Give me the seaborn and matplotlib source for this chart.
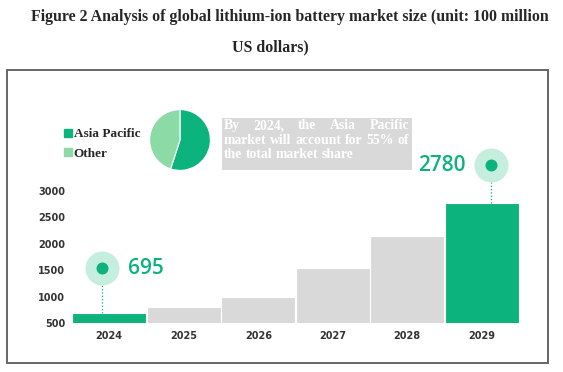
import matplotlib
matplotlib.use('Agg')
import matplotlib.pyplot as plt
import matplotlib.patches as patches
from matplotlib.lines import Line2D
import seaborn as sns
import pandas as pd

years = ['2024', '2025', '2026', '2027', '2028', '2029']
market = [695, 800, 1000, 1550, 2150, 2780]
bar_colors = ['#0db37d', '#d9d9d9', '#d9d9d9', '#d9d9d9', '#d9d9d9', '#0db37d']
yticks = [500, 1000, 1500, 2000, 2500, 3000]
share_labels = ['Asia Pacific', 'Other']
share_values = [55, 45]
share_colors = ['#0db37d', '#8cdba6']
note_lines = ['By 2024, the Asia Pacific', 'market will account for 55% of', 'the total market share']

green = '#0db37d'
light = '#c6eedf'

sns.set_style('white')
fig = plt.figure(figsize=(5.63, 3.72), dpi=100)
W, H = 563, 372

def fx(px):
    return px / W

def fy(py):
    return 1 - py / H

# outer frame
fig.patches.append(patches.Rectangle((fx(7), fy(363)), fx(548) - fx(7), fy(70) - fy(363),
                                     transform=fig.transFigure, fill=False,
                                     edgecolor='#666666', lw=1.4))

# title
fig.text(fx(290), fy(17), 'Figure 2 Analysis of global lithium-ion battery market size (unit: 100 million',
         ha='center', va='center', fontsize=11.4, fontweight='bold', family='Liberation Serif')
fig.text(fx(270), fy(47), 'US dollars)', ha='center', va='center', fontsize=11.4,
         fontweight='bold', family='Liberation Serif')

# bar chart
ymin, ymax = 500, 3600
ppu = 132 / 2500
ax = fig.add_axes([fx(72), fy(323), fx(519) - fx(72), (ymax - ymin) * ppu / H])
df = pd.DataFrame({'year': years, 'value': market})
sns.barplot(data=df, x='year', y='value', hue='year', palette=bar_colors, legend=False,
            width=0.99, edgecolor='white', linewidth=0.8, ax=ax, saturation=1)
ax.set_ylim(ymin, ymax)
ax.set_xlim(-0.5, 5.5)
ax.set_yticks(yticks)
ax.set_yticklabels([str(t) for t in yticks])
ax.set_xlabel('')
ax.set_ylabel('')
for s in ax.spines.values():
    s.set_visible(False)
ax.tick_params(axis='both', length=0, labelsize=7, labelcolor='#333333')
ax.tick_params(axis='y', pad=5)
ax.tick_params(axis='x', pad=6)
for lab in ax.get_xticklabels() + ax.get_yticklabels():
    lab.set_fontweight('bold')

# callouts
callouts = [(0, market[0], 1540, -0.1, 26, 'left'), (5, market[5], 3492, 0.12, -25, 'right')]
for i, val, cy, dx, off, ha in callouts:
    x = i + dx
    ax.plot([x, x], [val, cy], ls=':', color=green, lw=0.9, clip_on=False)
    ax.scatter([x], [cy], s=600, color=light, zorder=3, clip_on=False, linewidths=0)
    ax.scatter([x], [cy], s=75, color=green, zorder=4, clip_on=False, linewidths=0)
    ax.annotate(str(val), (x, cy), xytext=(off, 0), textcoords='offset pixels',
                ha=ha, va='center', fontsize=15, color=green, family='Open Sans',
                fontweight='semibold', annotation_clip=False)

# pie
pax = fig.add_axes([fx(149), fy(171), fx(211) - fx(149), fy(109) - fy(171)])
pax.pie(share_values, colors=share_colors, startangle=90, counterclock=False, radius=1,
        wedgeprops=dict(edgecolor='white', linewidth=0.8))
pax.set_xlim(-1.02, 1.02)
pax.set_ylim(-1.02, 1.02)
pax.set_aspect('equal')

# legend
handles = [Line2D([], [], marker='s', ls='', color=c, markersize=6) for c in share_colors]
fig.legend(handles, share_labels, loc='center left', bbox_to_anchor=(fx(52), fy(144)),
           frameon=False, handlelength=0.6, handletextpad=0.15, labelspacing=0.55,
           prop=dict(family='Liberation Serif', weight='bold', size=9.5))

# note box, justified text
bx0, bx1, by0, by1 = 222, 412, 118, 170
fig.patches.append(patches.Rectangle((fx(bx0), fy(by1)), fx(bx1) - fx(bx0), fy(by0) - fy(by1),
                                     transform=fig.transFigure, color='#d9d9d9', lw=0))
renderer = fig.canvas.get_renderer()
tx0, tx1 = bx0 + 2, bx1 - 3
for k, line in enumerate(note_lines):
    ypos = fy(126 + 14 * k)
    words = line.split()
    txts = [fig.text(0, ypos, w, ha='left', va='center', fontsize=9.9, color='white',
                     fontweight='bold', family='Liberation Serif') for w in words]
    widths = [t.get_window_extent(renderer).width for t in txts]
    if k < len(note_lines) - 1:
        gap = (tx1 - tx0 - sum(widths)) / (len(words) - 1)
    else:
        gap = 3.4
    xcur = tx0
    for t, w in zip(txts, widths):
        t.set_x(fx(xcur))
        xcur += w + gap

fig.savefig('out.png', dpi=100)
